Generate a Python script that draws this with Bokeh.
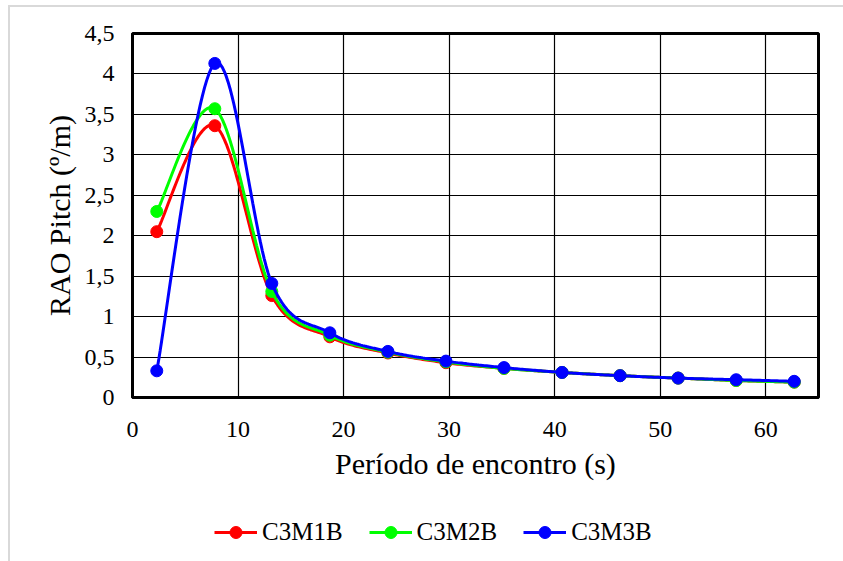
import numpy as np
from bokeh.plotting import figure
from bokeh.layouts import column
from bokeh.models import FixedTicker, Legend, LegendItem, Range1d
from bokeh.embed import file_html
from bokeh.resources import INLINE

# Encounter period (s) and pitch RAO (deg/m) for each configuration
period = [2.3, 7.8, 13.2, 18.7, 24.2, 29.7, 35.2, 40.7, 46.2, 51.7, 57.2, 62.7]
rao_c3m1b = [2.05, 3.36, 1.26, 0.75, 0.55, 0.43, 0.36, 0.31, 0.27, 0.24, 0.21, 0.19]
rao_c3m2b = [2.30, 3.57, 1.31, 0.77, 0.56, 0.44, 0.36, 0.31, 0.27, 0.24, 0.21, 0.19]
rao_c3m3b = [0.33, 4.13, 1.41, 0.80, 0.57, 0.45, 0.37, 0.31, 0.27, 0.24, 0.22, 0.20]

series_names = ["C3M1B", "C3M2B", "C3M3B"]
series_colors = ["#ff0000", "#00ff00", "#0000ff"]

x_ticks = [0, 10, 20, 30, 40, 50, 60]
y_ticks = [0, 0.5, 1, 1.5, 2, 2.5, 3, 3.5, 4, 4.5]
y_tick_labels = ["0", "0,5", "1", "1,5", "2", "2,5", "3", "3,5", "4", "4,5"]

FONT = "Liberation Serif"


def smooth(xs, ys, steps=30):
    """Piecewise cubic Bezier through the points (Catmull-Rom style control points)."""
    pts = np.column_stack([xs, ys]).astype(float)
    n = len(pts)
    out = [pts[0]]
    for i in range(n - 1):
        p0 = pts[i - 1] if i > 0 else pts[i]
        p1 = pts[i]
        p2 = pts[i + 1]
        p3 = pts[i + 2] if i + 2 < n else pts[i + 1]
        c1 = p1 + (p2 - p0) / 6.0
        c2 = p2 - (p3 - p1) / 6.0
        t = np.linspace(0, 1, steps + 1)[1:, None]
        seg = ((1 - t) ** 3) * p1 + 3 * ((1 - t) ** 2) * t * c1 + 3 * (1 - t) * t ** 2 * c2 + t ** 3 * p2
        out.extend(seg)
    out = np.array(out)
    return out[:, 0], out[:, 1]


series = [rao_c3m1b, rao_c3m2b, rao_c3m3b]

# ---- main chart ----
p = figure(
    width=833, height=495,
    x_range=Range1d(0, 65), y_range=Range1d(0, 4.5),
    output_backend="svg", toolbar_location=None,
    min_border_left=122, min_border_right=25,
    min_border_top=26, min_border_bottom=105,
    background_fill_color="white", border_fill_color="white",
)

p.outline_line_color = "black"
p.outline_line_width = 3

p.xgrid.ticker = FixedTicker(ticks=x_ticks)
p.ygrid.ticker = FixedTicker(ticks=y_ticks)
for g in (p.xgrid, p.ygrid):
    g.grid_line_color = "black"
    g.grid_line_width = 1.2
    g.grid_line_alpha = 1.0

p.xaxis.ticker = FixedTicker(ticks=x_ticks)
p.yaxis.ticker = FixedTicker(ticks=y_ticks)
p.yaxis.major_label_overrides = {t: lab for t, lab in zip(y_ticks, y_tick_labels)}
p.xaxis.axis_label = "Período de encontro (s)"
p.yaxis.axis_label = "RAO Pitch (º/m)"
for ax in (p.xaxis, p.yaxis):
    ax.axis_line_color = "black"
    ax.axis_line_width = 3
    ax.major_tick_line_color = None
    ax.minor_tick_line_color = None
    ax.major_tick_out = 0
    ax.major_tick_in = 0
    ax.minor_tick_out = 0
    ax.major_label_text_font = FONT
    ax.major_label_text_font_size = "24px"
    ax.major_label_text_color = "black"
    ax.axis_label_text_font = FONT
    ax.axis_label_text_font_size = "30px"
    ax.axis_label_text_font_style = "normal"
    ax.axis_label_text_color = "black"
p.xaxis.major_label_standoff = 24
p.xaxis.axis_label_standoff = 7
p.yaxis.major_label_standoff = 18
p.yaxis.axis_label_standoff = 6

for color, vals in zip(series_colors, series):
    sx, sy = smooth(period, vals)
    p.line(sx, sy, line_color=color, line_width=3)
    p.scatter(period, vals, size=12, fill_color=color, line_color=color)

# ---- legend strip under the chart ----
leg_fig = figure(
    width=833, height=59,
    x_range=Range1d(-20, -10), y_range=Range1d(-20, -10),
    output_backend="svg", toolbar_location=None,
    x_axis_location=None, y_axis_location=None,
    min_border_left=0, min_border_right=0, min_border_top=0, min_border_bottom=0,
    background_fill_color="white", border_fill_color="white",
)
leg_fig.outline_line_color = None
leg_fig.xgrid.visible = False
leg_fig.ygrid.visible = False

items = []
for name, color, vals in zip(series_names, series_colors, series):
    lr = leg_fig.line(period, vals, line_color=color, line_width=3)
    mr = leg_fig.scatter(period, vals, size=12, fill_color=color, line_color=color)
    items.append(LegendItem(label=name, renderers=[lr, mr]))

legend = Legend(
    items=items, orientation="horizontal", location=(82, 14),
    glyph_width=43, glyph_height=30, label_height=30,
    label_standoff=5, spacing=26, padding=0, margin=0,
    label_text_font=FONT, label_text_font_size="25px", label_text_color="black",
    border_line_color=None, background_fill_alpha=0,
)
leg_fig.add_layout(legend, "center")

layout = column(
    p, leg_fig, spacing=0,
    margin=(5, 0, 0, 8),
    styles={"border-top": "2px solid #d9d9d9", "border-left": "2px solid #d9d9d9"},
)

open("out.html", "w").write(file_html(layout, INLINE))
